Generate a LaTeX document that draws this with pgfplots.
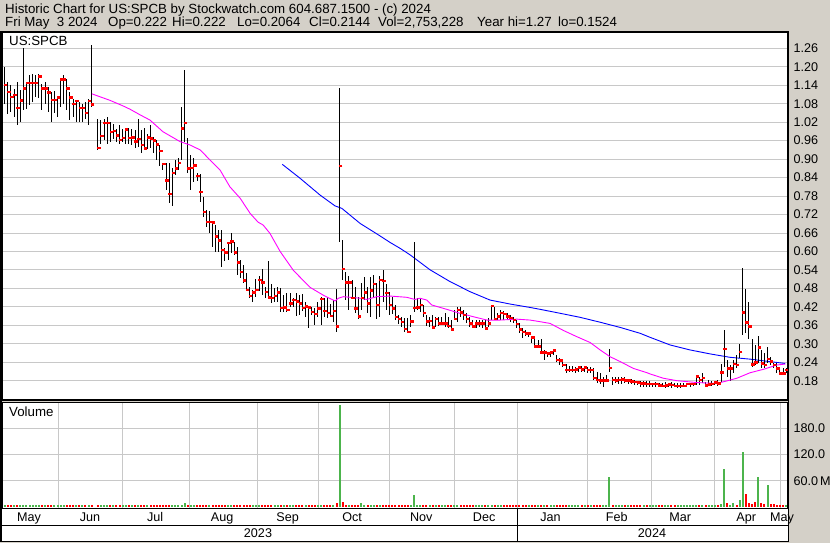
\documentclass[border=0pt]{standalone}
\usepackage{fontspec}
\setmainfont{Liberation Sans}
\usepackage{pgfplots}
\usepackage{pgfplotstable}
\pgfplotsset{compat=1.18}

\definecolor{winbg}{RGB}{212,208,200}
\definecolor{gridc}{RGB}{200,200,200}
\definecolor{volgreen}{RGB}{76,180,76}
\definecolor{mavg}{RGB}{255,0,255}
\definecolor{mablue}{RGB}{0,0,255}
\definecolor{closered}{RGB}{255,0,0}
\newcommand\fs{\fontsize{12.6}{14}\selectfont}
\newcommand\hs{\fontsize{13.3}{15}\selectfont}

% daily bars: day index, high, low, close, volume (millions), up-day flag
\pgfplotstableread[row sep=\\]{
k hi lo cl v u\\
0 1.199 1.080 1.140 3 1\\ 1 1.150 1.048 1.118 3 0\\ 2 1.140 1.053 1.102 3 0\\ 3 1.129 1.037 1.109 3 1\\
4 1.150 1.010 1.066 3 0\\ 5 1.123 1.021 1.091 3 1\\ 6 1.261 1.058 1.129 3 1\\ 7 1.150 1.064 1.147 3 1\\
8 1.172 1.075 1.147 3 1\\ 9 1.178 1.086 1.147 3 1\\ 10 1.172 1.102 1.147 3 1\\ 11 1.175 1.100 1.169 3 1\\
12 1.145 1.058 1.129 3 0\\ 13 1.150 1.080 1.129 3 1\\ 14 1.134 1.053 1.116 3 0\\ 15 1.118 1.021 1.093 3 0\\
16 1.120 1.050 1.093 3 1\\ 17 1.102 1.037 1.100 3 1\\ 18 1.161 1.069 1.158 3 1\\ 19 1.172 1.080 1.158 3 1\\
20 1.161 1.058 1.129 3 0\\ 21 1.118 1.026 1.100 3 0\\ 22 1.096 1.037 1.080 3 0\\ 23 1.091 1.021 1.089 3 1\\
24 1.085 1.021 1.066 3 0\\ 25 1.080 1.021 1.066 3 1\\ 26 1.085 1.031 1.050 3 0\\ 27 1.096 1.010 1.089 3 1\\
28 1.272 1.069 1.078 3 0\\ 30 1.031 0.930 0.936 3 0\\ 31 1.026 0.950 0.976 3 1\\ 32 1.031 0.961 1.018 3 1\\
33 1.037 0.950 1.018 3 1\\ 34 1.021 0.956 0.988 3 0\\ 35 1.015 0.966 0.991 3 1\\ 36 0.999 0.956 0.977 3 0\\
37 1.010 0.950 0.963 3 0\\ 38 0.999 0.956 0.969 3 1\\ 39 1.000 0.950 0.996 3 1\\ 40 1.000 0.950 0.969 3 0\\
41 0.999 0.946 0.970 3 1\\ 42 0.995 0.935 0.957 3 0\\ 43 1.029 0.940 0.965 3 1\\ 44 0.995 0.919 0.946 3 0\\
45 1.000 0.930 0.935 3 0\\ 46 0.982 0.932 0.970 3 1\\ 47 1.011 0.935 0.967 3 0\\ 48 0.973 0.919 0.960 3 0\\
49 0.962 0.897 0.947 3 0\\ 50 0.946 0.878 0.927 3 0\\ 51 0.886 0.865 0.885 3 0\\ 52 0.886 0.800 0.830 3 0\\
53 0.886 0.758 0.787 3 0\\ 54 0.870 0.748 0.854 3 1\\ 55 0.897 0.848 0.869 3 1\\ 56 0.902 0.865 0.888 3 1\\
57 1.070 0.897 0.999 3 1\\ 58 1.190 0.957 1.018 8 1\\ 59 0.968 0.854 0.870 3 0\\ 60 0.913 0.800 0.872 3 1\\
61 0.902 0.827 0.879 3 1\\ 62 0.854 0.830 0.846 3 0\\ 63 0.852 0.762 0.793 3 0\\ 64 0.778 0.711 0.729 3 0\\
65 0.735 0.681 0.696 3 0\\ 66 0.733 0.661 0.696 3 1\\ 67 0.694 0.616 0.694 3 0\\ 68 0.686 0.599 0.648 3 0\\
69 0.670 0.599 0.635 3 0\\ 70 0.670 0.548 0.605 3 0\\ 71 0.610 0.569 0.596 3 0\\ 72 0.632 0.572 0.628 3 1\\
73 0.659 0.594 0.632 3 1\\ 74 0.632 0.588 0.596 3 0\\ 75 0.615 0.523 0.564 3 0\\ 76 0.572 0.513 0.534 3 0\\
77 0.556 0.496 0.505 3 0\\ 78 0.529 0.475 0.475 3 0\\ 79 0.486 0.448 0.456 3 0\\ 80 0.475 0.437 0.466 3 1\\
81 0.509 0.451 0.475 3 1\\ 82 0.520 0.470 0.507 3 1\\ 83 0.542 0.458 0.499 3 0\\ 84 0.486 0.448 0.469 3 0\\
85 0.569 0.448 0.450 3 0\\ 86 0.494 0.431 0.448 3 0\\ 87 0.480 0.437 0.455 3 1\\ 88 0.486 0.437 0.466 3 1\\
89 0.480 0.404 0.417 3 0\\ 90 0.458 0.404 0.418 3 1\\ 91 0.464 0.404 0.410 3 0\\ 92 0.464 0.421 0.431 3 1\\
93 0.448 0.421 0.442 3 1\\ 94 0.466 0.390 0.437 3 0\\ 95 0.458 0.394 0.431 3 0\\ 96 0.462 0.408 0.416 3 0\\
97 0.437 0.386 0.421 3 1\\ 98 0.423 0.350 0.418 3 0\\ 99 0.421 0.394 0.404 3 0\\ 100 0.417 0.361 0.396 3 0\\
101 0.437 0.386 0.415 3 1\\ 102 0.453 0.361 0.445 3 1\\ 103 0.448 0.388 0.407 3 0\\ 104 0.453 0.383 0.399 3 0\\
105 0.429 0.388 0.391 3 0\\ 106 0.442 0.372 0.407 3 1\\ 107 0.477 0.339 0.356 9 0\\ 108 1.130 0.630 0.878 234 1\\
109 0.637 0.507 0.543 10 0\\ 110 0.534 0.442 0.499 4 0\\ 111 0.520 0.410 0.499 3 1\\ 112 0.507 0.448 0.448 3 0\\
113 0.486 0.399 0.415 3 0\\ 114 0.453 0.379 0.388 3 0\\ 115 0.496 0.410 0.448 8 1\\ 116 0.518 0.442 0.467 3 1\\
117 0.486 0.399 0.431 3 0\\ 118 0.518 0.388 0.473 3 1\\ 119 0.523 0.453 0.494 3 1\\ 120 0.496 0.379 0.426 3 0\\
121 0.520 0.386 0.507 5 1\\ 122 0.540 0.437 0.504 3 0\\ 123 0.494 0.410 0.464 3 0\\ 124 0.469 0.394 0.426 3 0\\
125 0.453 0.397 0.415 3 0\\ 126 0.426 0.377 0.386 3 0\\ 127 0.394 0.364 0.381 3 0\\ 128 0.388 0.356 0.370 3 0\\
129 0.383 0.339 0.348 3 0\\ 130 0.383 0.339 0.339 3 0\\ 131 0.394 0.356 0.372 3 1\\ 132 0.632 0.404 0.417 28 1\\
133 0.448 0.410 0.418 4 1\\ 134 0.444 0.404 0.426 3 1\\ 135 0.426 0.388 0.399 3 0\\ 136 0.394 0.358 0.372 3 0\\
137 0.388 0.356 0.374 3 1\\ 138 0.394 0.350 0.353 3 0\\ 139 0.388 0.356 0.380 3 1\\ 140 0.388 0.358 0.366 3 0\\
141 0.388 0.361 0.366 3 1\\ 142 0.399 0.356 0.366 3 1\\ 143 0.388 0.350 0.358 3 0\\ 144 0.377 0.345 0.347 3 0\\
145 0.410 0.377 0.381 3 1\\ 146 0.421 0.372 0.410 3 1\\ 147 0.421 0.388 0.402 3 0\\ 148 0.410 0.377 0.394 3 0\\
149 0.399 0.366 0.380 3 0\\ 150 0.388 0.356 0.366 3 0\\ 151 0.377 0.350 0.356 3 0\\ 152 0.377 0.350 0.366 3 1\\
153 0.377 0.356 0.366 3 1\\ 154 0.377 0.350 0.366 3 1\\ 155 0.377 0.345 0.350 3 0\\ 156 0.383 0.356 0.366 3 1\\
157 0.426 0.377 0.423 3 1\\ 158 0.421 0.377 0.380 3 0\\ 159 0.399 0.377 0.388 3 1\\ 160 0.410 0.377 0.399 3 1\\
161 0.408 0.377 0.396 3 0\\ 162 0.401 0.377 0.388 3 0\\ 163 0.394 0.372 0.383 3 0\\ 164 0.386 0.366 0.377 3 0\\
165 0.377 0.350 0.364 3 0\\ 166 0.366 0.334 0.347 3 0\\ 167 0.350 0.318 0.339 3 0\\ 168 0.345 0.325 0.334 3 0\\
169 0.339 0.321 0.334 3 1\\ 170 0.323 0.301 0.320 3 0\\ 171 0.314 0.288 0.291 3 0\\ 172 0.312 0.288 0.291 3 1\\
173 0.314 0.269 0.271 3 0\\ 174 0.280 0.247 0.271 3 1\\ 175 0.274 0.258 0.269 3 0\\ 176 0.277 0.258 0.272 3 1\\
177 0.280 0.263 0.278 3 1\\ 178 0.263 0.242 0.247 3 0\\ 179 0.253 0.231 0.245 3 0\\ 180 0.247 0.223 0.231 3 0\\
181 0.234 0.206 0.215 3 0\\ 182 0.228 0.209 0.215 3 1\\ 183 0.228 0.209 0.215 3 1\\ 184 0.226 0.206 0.217 3 1\\
185 0.226 0.209 0.223 3 1\\ 186 0.228 0.209 0.217 3 0\\ 187 0.226 0.209 0.223 3 1\\ 188 0.226 0.206 0.215 3 0\\
189 0.223 0.204 0.215 3 1\\ 190 0.220 0.182 0.188 3 0\\ 191 0.209 0.171 0.182 3 0\\ 192 0.204 0.169 0.180 3 0\\
193 0.193 0.161 0.180 5 1\\ 194 0.199 0.177 0.180 3 1\\ 195 0.282 0.209 0.222 68 1\\ 196 0.193 0.166 0.182 5 0\\
197 0.191 0.171 0.180 4 1\\ 198 0.191 0.169 0.182 3 1\\ 199 0.191 0.169 0.184 3 1\\ 200 0.191 0.171 0.180 3 0\\
201 0.184 0.169 0.180 3 1\\ 202 0.184 0.169 0.177 3 0\\ 203 0.182 0.166 0.175 3 0\\ 204 0.180 0.166 0.174 3 0\\
205 0.180 0.161 0.171 3 0\\ 206 0.180 0.161 0.171 3 1\\ 207 0.180 0.161 0.169 3 0\\ 208 0.180 0.161 0.169 3 1\\
209 0.174 0.159 0.169 3 1\\ 210 0.177 0.161 0.169 3 1\\ 211 0.171 0.159 0.164 3 0\\ 212 0.171 0.159 0.163 3 0\\
213 0.177 0.155 0.164 3 1\\ 214 0.174 0.161 0.168 3 1\\ 215 0.177 0.155 0.166 3 0\\ 216 0.171 0.159 0.163 3 0\\
217 0.174 0.155 0.163 3 1\\ 218 0.174 0.155 0.163 3 1\\ 219 0.171 0.159 0.163 3 1\\ 220 0.174 0.161 0.169 3 1\\
221 0.174 0.161 0.169 3 1\\ 222 0.174 0.163 0.169 3 1\\ 223 0.199 0.166 0.193 4 1\\ 224 0.191 0.166 0.182 3 0\\
225 0.204 0.171 0.188 3 1\\ 226 0.177 0.159 0.164 3 0\\ 227 0.182 0.163 0.168 3 1\\ 228 0.180 0.163 0.169 3 1\\
229 0.177 0.166 0.174 3 1\\ 230 0.182 0.163 0.171 3 0\\ 231 0.234 0.177 0.206 6 1\\ 232 0.345 0.226 0.283 86 1\\
233 0.247 0.193 0.220 8 0\\ 234 0.231 0.180 0.220 4 1\\ 235 0.247 0.206 0.234 9 1\\ 236 0.263 0.220 0.231 4 0\\
237 0.298 0.253 0.274 16 1\\ 238 0.545 0.328 0.401 125 1\\ 239 0.477 0.336 0.369 30 0\\ 240 0.437 0.314 0.356 9 0\\
241 0.314 0.226 0.233 7 0\\ 242 0.296 0.231 0.239 11 0\\ 243 0.325 0.239 0.288 68 1\\ 244 0.280 0.220 0.236 8 0\\
245 0.269 0.220 0.231 6 0\\ 246 0.288 0.236 0.250 50 1\\ 247 0.258 0.231 0.242 7 0\\ 248 0.239 0.220 0.231 6 0\\
249 0.236 0.204 0.220 4 0\\ 250 0.220 0.202 0.204 4 0\\ 251 0.220 0.202 0.204 3 0\\ 252 0.222 0.2064 0.2144 4 1\\
}\price

\pgfplotsset{
  panel/.style={
    scale only axis, width=786pt,
    xmin=-0.9, xmax=252.6,
    axis background/.style={fill=white},
    axis line style={line width=1.3pt},
    major tick length=0pt, minor tick length=0pt,
    xtick=\empty,
    minor xtick={17.16,38.1,59.4,81.4,101.0,123.9,144.9,165.2,187.8,208.5,228.8,250.1},
    xminorgrids=true, ymajorgrids=true,
    grid style={gridc, line width=0.9pt},
    minor grid style={gridc, line width=0.9pt},
    yticklabel pos=right,
    yticklabel style={font=\fs, anchor=west, xshift=2pt},
    /pgf/number format/assume math mode=true,
  },
}

\begin{document}
\begin{tikzpicture}[x=1pt, y=1pt]
\fill[winbg] (0,0) rectangle (830,543);
\useasboundingbox (0,0) rectangle (830,543);
\fill[white] (2,2) rectangle (788,34.5);

% price panel
\begin{axis}[panel, at={(2pt,143pt)}, anchor=south west, height=368pt,
    ymin=0.1173, ymax=1.313,
    ytick={0.18,0.24,0.30,0.36,0.42,0.48,0.54,0.60,0.66,0.72,0.78,0.84,0.90,0.96,1.02,1.08,1.14,1.20,1.26},
    yticklabel style={/pgf/number format/.cd, fixed, fixed zerofill, precision=2}]
\addplot[mablue, line width=0.9pt] coordinates {
 (89.5,0.883) (95.2,0.838) (101.7,0.783) (106.5,0.748) (108.7,0.740) (114.6,0.691)
 (120,0.657) (124.3,0.629) (127.5,0.610) (130.7,0.589) (137.2,0.540) (143.6,0.502)
 (150.1,0.469) (156.5,0.442) (163,0.429) (169.4,0.418) (172.6,0.412) (179.1,0.399)
 (185.5,0.386) (192,0.370) (198.5,0.353) (204.9,0.334) (208.1,0.321) (214.6,0.296)
 (221,0.280) (227.5,0.267) (233.9,0.256) (240.4,0.250) (246.8,0.242) (251.7,0.236)};
\addplot[draw=none, mark=none,
    error bars/.cd, y dir=both, y explicit, error mark=none,
    error bar style={draw=black, line width=1pt}]
  table[x=k, y=cl, y error plus expr=\thisrow{hi}-\thisrow{cl},
        y error minus expr=\thisrow{cl}-\thisrow{lo}] {\price};
\addplot[only marks, mark=-, mark size=1.7pt, closered,
    mark options={draw=closered, line width=2.4pt, xshift=1pt}] table[x=k, y=cl] {\price};
\addplot[mavg, line width=0.9pt] coordinates {
 (28.1,1.112) (33.9,1.091) (38.1,1.073) (40.4,1.062) (43.6,1.044) (46.8,1.027)
 (51,0.989) (56.5,0.957) (59.7,0.946) (63,0.930) (66.2,0.897) (69.4,0.865)
 (72.6,0.810) (75.9,0.773) (79.1,0.724) (81.7,0.695) (83.3,0.686) (85.5,0.659)
 (88.8,0.600) (93.1,0.538) (98.5,0.483) (102.7,0.458) (106.5,0.439) (107.6,0.448)
 (109.2,0.453) (114.6,0.448) (116.7,0.444) (120,0.453) (124.3,0.455) (129.6,0.451)
 (132.3,0.444) (133.9,0.448) (136.1,0.442) (137.7,0.426) (142.5,0.412) (146.8,0.399)
 (151.1,0.388) (155.5,0.377) (159.7,0.377) (165.1,0.380) (169.4,0.377) (172.5,0.372)
 (175.9,0.366) (180.2,0.343) (184.5,0.323) (188.8,0.304) (192,0.280) (195.2,0.258)
 (198.5,0.242) (202.7,0.220) (207.1,0.206) (208.1,0.202) (212.4,0.188) (216.8,0.180)
 (223.2,0.174) (229.6,0.171) (233.9,0.182) (236.1,0.188) (240.4,0.206) (244.7,0.217)
 (249,0.231) (251.7,0.234)};
\end{axis}

% volume panel
\begin{axis}[panel, at={(2pt,34.5pt)}, anchor=south west, height=106pt,
    ymin=-4, ymax=240,
    ytick={60,120,180}, yticklabels={60.0\,M,120.0,180.0},
    xtick={7.8,27.5,48.5,70.1,91.2,112,134.3,154.6,176,197.4,217.8,239.1,250.7},
    xticklabels={May,Jun,Jul,Aug,Sep,Oct,Nov,Dec,Jan,Feb,Mar,Apr,May},
    xmajorgrids=false,
    xticklabel style={font=\fs, yshift=-0.5pt}]
\addplot[ycomb, volgreen, line width=2pt, restrict expr to domain={\thisrow{u}}{1:1}]
  table[x=k, y=v] {\price};
\addplot[ycomb, closered, line width=2pt, restrict expr to domain={\thisrow{u}}{0:0}]
  table[x=k, y=v] {\price};
\end{axis}

% date strip
\draw[line width=1.3pt] (1,1.5) rectangle (788.5,34.5);
\draw[line width=1.3pt] (1,17.3) -- (788.5,17.3);
\draw[line width=1pt] (517,1.5) -- (517,34.5);
\node[font=\fs] at (258,9.7) {2023};
\node[font=\fs] at (652,9.7) {2024};
\draw[line width=1.6pt] (788.5,1.5) -- (788.5,512);
\draw[line width=1.6pt] (1.2,1.5) -- (1.2,512);

% panel captions
\node[font=\hs, anchor=base west, inner sep=0pt] at (9,497.7) {US:SPCB};
\node[font=\hs, anchor=base west, inner sep=0pt] at (9,126) {Volume};

% header
\node[font=\hs, anchor=base west, inner sep=0pt] at (5,529.7)
  {Historic Chart for US:SPCB by Stockwatch.com 604.687.1500 - (c) 2024};
\begin{scope}[every node/.style={font=\hs, anchor=base west, inner sep=0pt}]
\node at (5,516.3) {Fri May\ \ 3 2024};
\node at (108,516.3) {Op=0.222};
\node at (172,516.3) {Hi=0.222};
\node at (237,516.3) {Lo=0.2064};
\node at (309,516.3) {Cl=0.2144};
\node at (378,516.3) {Vol=2,753,228};
\node at (477,516.3) {Year hi=1.27};
\node at (558,516.3) {lo=0.1524};
\end{scope}
\end{tikzpicture}
\end{document}
